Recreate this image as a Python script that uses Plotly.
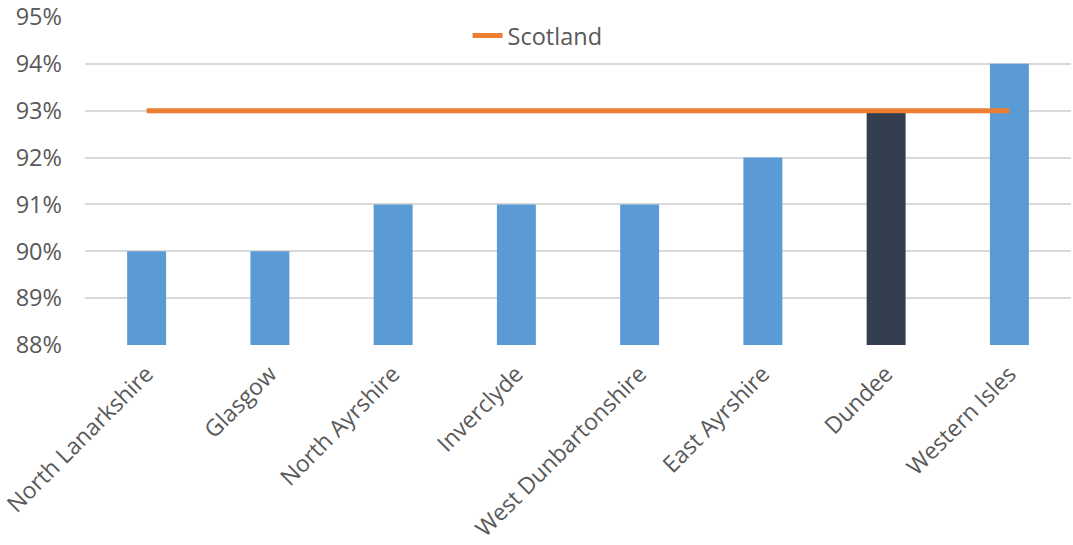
import plotly.graph_objects as go

councils = ["North Lanarkshire", "Glasgow", "North Ayrshire", "Inverclyde",
            "West Dunbartonshire", "East Ayrshire", "Dundee", "Western Isles"]
rates = [0.90, 0.90, 0.91, 0.91, 0.91, 0.92, 0.93, 0.94]
scotland_rate = [0.93] * len(councils)
bar_colors = ["#5B9BD5", "#5B9BD5", "#5B9BD5", "#5B9BD5",
              "#5B9BD5", "#5B9BD5", "#333F50", "#5B9BD5"]
y_ticks = [0.88, 0.89, 0.90, 0.91, 0.92, 0.93, 0.94, 0.95]

font_family = "Open Sans, Liberation Sans, sans-serif"
text_color = "#595959"

fig = go.Figure()
fig.add_trace(go.Bar(
    x=councils, y=rates, marker=dict(color=bar_colors, line=dict(width=0)),
    showlegend=False, base=0,
))
fig.add_trace(go.Scatter(
    x=councils, y=scotland_rate, mode="lines", name="Scotland",
    line=dict(color="#ED7D31", width=5),
))

fig.update_layout(
    width=1073, height=545,
    margin=dict(l=85, r=2, t=17, b=200),
    paper_bgcolor="white", plot_bgcolor="white",
    bargap=0.684,
    font=dict(family=font_family, size=23, color=text_color),
    legend=dict(orientation="h", x=0.388, y=1.01, xanchor="left", yanchor="top",
                font=dict(size=23.5, color=text_color), bgcolor="rgba(0,0,0,0)"),
    xaxis=dict(tickangle=-45, showgrid=False, showline=False, ticks="",
               automargin=False, ticklabelstandoff=10,
               tickfont=dict(size=23, color=text_color)),
    yaxis=dict(range=[0.88, 0.95], tickvals=y_ticks, tickformat=".0%",
               showgrid=True, gridcolor="#D9D9D9", gridwidth=1.5,
               zeroline=False, showline=False, ticks="",
               automargin=False, ticklabelstandoff=22,
               tickfont=dict(size=23.5, color=text_color)),
)

fig.write_html("out.html")
